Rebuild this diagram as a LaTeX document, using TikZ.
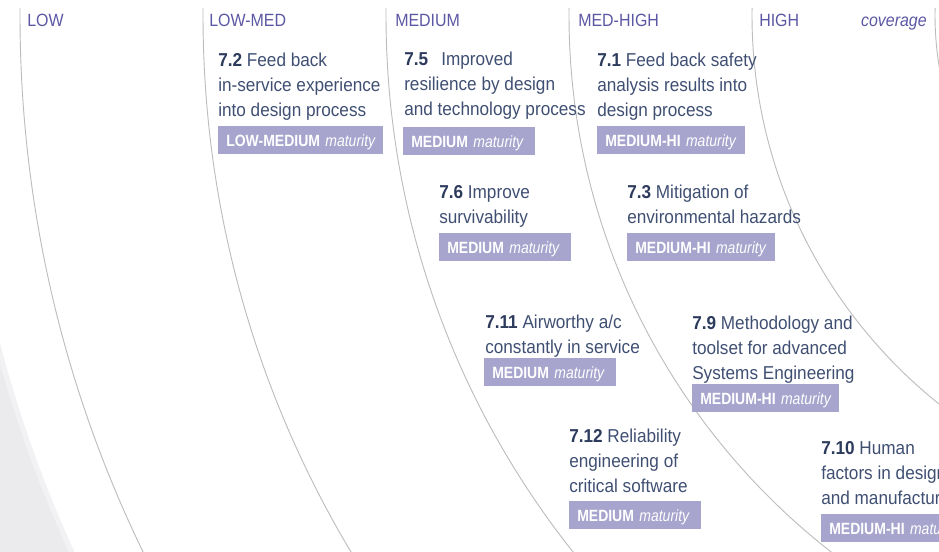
\documentclass[tikz,border=0pt]{standalone}
\usepackage{fontspec}
\setmainfont{Liberation Sans}[FakeStretch=0.92]
\newfontfamily\hdrfont{Liberation Sans}[FakeStretch=0.9]
\newfontfamily\boxfont{Liberation Sans}[FakeStretch=0.86]
\definecolor{txt}{HTML}{3F4F72}
\definecolor{num}{HTML}{2C3A5C}
\definecolor{hdr}{HTML}{5B57A3}
\definecolor{boxc}{HTML}{A7A4CD}
\definecolor{arcc}{HTML}{BDBDBD}
\definecolor{band}{HTML}{EBEBED}
\definecolor{bandlt}{HTML}{F2F2F4}
\newcommand{\firstln}{\rule{0pt}{11pt}}
\newcommand{\itnum}[1]{\textcolor{num}{\bfseries #1}}
\newcommand{\mat}[1]{{\bfseries #1} {\itshape maturity}}
\tikzset{
  hdr/.style={anchor=base west, inner sep=0pt, text=hdr, font=\hdrfont\fontsize{13.3}{16}\selectfont},
  itemtext/.style={anchor=north west, inner sep=0pt, align=left, text=txt, font=\fontsize{14}{18.75}\selectfont},
  matbox/.style={anchor=north west, fill=boxc, text=white, inner xsep=6pt, inner ysep=0pt,
    text height=15.5pt, text depth=5.5pt, text width=#1, align=left, font=\boxfont\fontsize{12.2}{14}\selectfont},
  arcline/.style={draw=arcc, line width=0.7pt}
}
\begin{document}
\begin{tikzpicture}[x=0.75pt, y=-0.75pt]
\useasboundingbox (0,0) rectangle (939,551);
\begin{scope}
\clip (0,0) rectangle (939,551);
% grey band lower left
\fill[bandlt, even odd rule] (-10,-10) rectangle (950,560) (1250,15) circle[radius=969pt];
\fill[band, even odd rule] (-10,-10) rectangle (950,560) (1250,15) circle[radius=973pt];
% arcs
\begin{scope}
\clip (0,8) rectangle (939,551);
\coordinate (ctr) at (1250,15);
\foreach \r in {922.5, 785.25, 648, 510.75, 373.5, 236.25}{
  \draw[arcline] (ctr) circle[radius=\r pt];
}
\end{scope}
% headers
\node[hdr] (hlow) at (27,26) {LOW};
\node[hdr] (hlowmed) at (209,26) {LOW-MED};
\node[hdr] (hmed) at (395,26) {MEDIUM};
\node[hdr] (hmedhigh) at (578,26) {MED-HIGH};
\node[hdr] (hhigh) at (759,26) {HIGH};
\node[hdr, anchor=base east] (hcov) at (927,26) {\itshape coverage};
% items
\node[itemtext] (t72) at (218,51.3) {\firstln\itnum{7.2} Feed back\\in-service experience\\into design process};
\node[matbox=111.75pt] (b72) at (218,126) {\mat{LOW-MEDIUM}};

\node[itemtext] (t75) at (404,50.3) {\firstln\itnum{7.5}\hspace{0.45em} Improved\\resilience by design\\and technology process};
\node[matbox=87pt] (b75) at (403,127) {\mat{MEDIUM}};

\node[itemtext] (t71) at (597,51.3) {\firstln\itnum{7.1} Feed back safety\\analysis results into\\design process};
\node[matbox=99pt] (b71) at (597,126) {\mat{MEDIUM-HI}};

\node[itemtext] (t76) at (439,183.3) {\firstln\itnum{7.6} Improve\\survivability};
\node[matbox=87pt] (b76) at (439,233) {\mat{MEDIUM}};

\node[itemtext] (t73) at (627,183.3) {\firstln\itnum{7.3} Mitigation of\\environmental hazards};
\node[matbox=99pt] (b73) at (627,233) {\mat{MEDIUM-HI}};

\node[itemtext] (t711) at (485,313.3) {\firstln\itnum{7.11} Airworthy a/c\\constantly in service};
\node[matbox=87pt] (b711) at (484,358) {\mat{MEDIUM}};

\node[itemtext] (t79) at (692,314.3) {\firstln\itnum{7.9} Methodology and\\toolset for advanced\\Systems Engineering};
\node[matbox=98.25pt] (b79) at (692,384) {\mat{MEDIUM-HI}};

\node[itemtext] (t712) at (569,427.3) {\firstln\itnum{7.12} Reliability\\engineering of\\critical software};
\node[matbox=87pt] (b712) at (569,501) {\mat{MEDIUM}};

\node[itemtext] (t710) at (821,439.3) {\firstln\itnum{7.10} Human\\factors in design\\and manufacture};
\node[matbox=99pt] (b710) at (821,514) {\mat{MEDIUM-HI}};
\end{scope}
\end{tikzpicture}
\end{document}
